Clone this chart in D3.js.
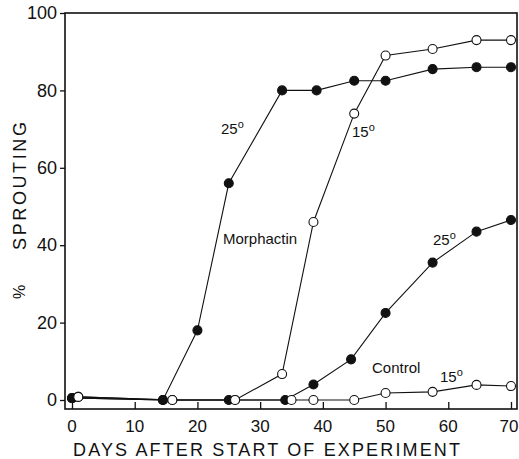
<!DOCTYPE html>
<html>
<head>
<meta charset="utf-8">
<script src="https://cdn.jsdelivr.net/npm/d3@7"></script>
<style>
  body { margin: 0; background: #fff; }
  text { font-family: "Liberation Sans", Arial, sans-serif; fill: #111; }
</style>
</head>
<body>
<svg id="chart" width="519" height="459"></svg>
<script>
// days after start, percent sprouting
var morph25Days = [0, 14.5, 20, 25, 33.5, 39, 45, 50, 57.5, 64.5, 70]
var morph25 = [0.5, 0, 18, 56, 80, 80, 82.5, 82.5, 85.5, 86, 86]
var morph15Days = [1, 16, 26, 33.5, 38.5, 45, 50, 57.5, 64.5, 70]
var morph15 = [0.8, 0, 0, 6.7, 46, 74, 89, 90.7, 93, 93]
var ctrl25Days = [0, 14.5, 25, 34, 38.5, 44.5, 50, 57.5, 64.5, 70]
var ctrl25 = [0.5, 0, 0, 0, 4, 10.5, 22.5, 35.5, 43.5, 46.5]
var ctrl15Days = [1, 16, 26, 35, 38.5, 45, 50, 57.5, 64.5, 70]
var ctrl15 = [0.8, 0, 0, 0, 0, 0, 1.8, 2.1, 3.9, 3.6]

var xTicks = [0, 10, 20, 30, 40, 50, 60, 70]
var yTicks = [0, 20, 40, 60, 80, 100]

var svg = d3.select("#chart")

var x = d3.scaleLinear().domain([0, 70]).range([72, 511])
var y = d3.scaleLinear().domain([0, 100]).range([400, 13])

// frame
var fLeft = 65, fRight = 517, fTop = 13, fBottom = 409
svg.append("rect")
  .attr("x", fLeft).attr("y", fTop)
  .attr("width", fRight - fLeft).attr("height", fBottom - fTop)
  .attr("fill", "none").attr("stroke", "#111").attr("stroke-width", 1.6)

// x axis, ticks pointing inward
var xAxis = svg.append("g")
  .attr("transform", "translate(0," + fBottom + ")")
  .call(d3.axisTop(x).tickValues(xTicks).tickSize(7).tickSizeOuter(0).tickFormat(""))
xAxis.select(".domain").remove()
xAxis.selectAll("line").attr("stroke", "#111").attr("stroke-width", 1.3)

svg.append("g").selectAll("text")
  .data(xTicks).join("text")
  .attr("x", function(d) { return d == 70 ? x(d) - 2 : x(d) })
  .attr("y", 432)
  .attr("text-anchor", "middle")
  .style("font-size", "17px")
  .text(function(d) { return d })

// y axis, ticks pointing outward
var yAxis = svg.append("g")
  .attr("transform", "translate(" + fLeft + ",0)")
  .call(d3.axisLeft(y).tickValues(yTicks).tickSize(5).tickSizeOuter(0).tickPadding(3))
yAxis.select(".domain").remove()
yAxis.selectAll("line").attr("stroke", "#111").attr("stroke-width", 1.3)
yAxis.selectAll("text")
  .style("font-size", "18px")
  .style("font-family", "Liberation Sans, Arial, sans-serif")
  .attr("fill", "#111")

// axis titles
svg.append("text")
  .attr("x", 73).attr("y", 456)
  .attr("textLength", 387).attr("lengthAdjust", "spacing")
  .style("font-size", "18px")
  .text("DAYS AFTER START OF EXPERIMENT")

svg.append("text")
  .attr("transform", "translate(26,186) rotate(-90)")
  .attr("text-anchor", "middle")
  .attr("textLength", 128).attr("lengthAdjust", "spacing")
  .style("font-size", "18px")
  .text("SPROUTING")

svg.append("text")
  .attr("transform", "translate(25,292) rotate(-90)")
  .attr("text-anchor", "middle")
  .style("font-size", "16px")
  .text("%")

// series
var series = [
  { days: ctrl25Days, vals: ctrl25, filled: true },
  { days: morph25Days, vals: morph25, filled: true },
  { days: ctrl15Days, vals: ctrl15, filled: false },
  { days: morph15Days, vals: morph15, filled: false }
]

var line = d3.line()
  .x(function(d) { return x(d[0]) })
  .y(function(d) { return y(d[1]) })

series.forEach(function(s) {
  var pts = d3.zip(s.days, s.vals)
  svg.append("path")
    .datum(pts)
    .attr("d", line)
    .attr("fill", "none")
    .attr("stroke", "#111")
    .attr("stroke-width", 1.1)
})

series.forEach(function(s) {
  var pts = d3.zip(s.days, s.vals)
  svg.append("g").selectAll("circle")
    .data(pts).join("circle")
    .attr("cx", function(d) { return x(d[0]) })
    .attr("cy", function(d) { return y(d[1]) })
    .attr("r", 4.5)
    .attr("fill", s.filled ? "#111" : "#fff")
    .attr("stroke", "#111")
    .attr("stroke-width", 1.1)
})

// annotations
var notes = [
  { t: "25", x: 221, y: 134, deg: true },
  { t: "15", x: 352, y: 137, deg: true },
  { t: "Morphactin", x: 223, y: 244, deg: false },
  { t: "Control", x: 372, y: 373, deg: false },
  { t: "15", x: 440, y: 382, deg: true },
  { t: "25", x: 433, y: 245, deg: true }
]
notes.forEach(function(n) {
  var t = svg.append("text")
    .attr("x", n.x).attr("y", n.y)
    .style("font-size", "15px")
    .text(n.t)
  if (n.deg) {
    t.append("tspan")
      .attr("dy", -6)
      .style("font-size", "11px")
      .text("o")
  }
})
</script>
</body>
</html>
